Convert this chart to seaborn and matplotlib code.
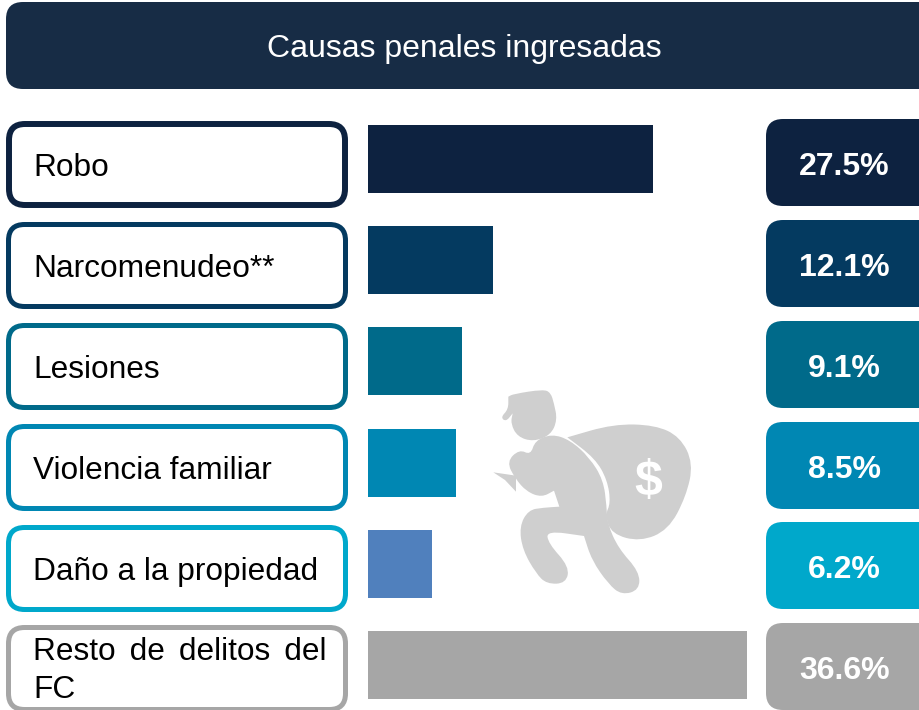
import numpy as np
import matplotlib
matplotlib.use("Agg")
import matplotlib.pyplot as plt
from matplotlib.patches import FancyBboxPatch, PathPatch
from matplotlib.path import Path
import seaborn as sns

title = "Causas penales ingresadas"
categories = ["Robo", "Narcomenudeo**", "Lesiones", "Violencia familiar",
              "Daño a la propiedad", "Resto \u200a\u200ade \u200a\u200adelitos \u200a\u200adel\nFC"]
values = [27.5, 12.1, 9.1, 8.5, 6.2, 36.6]
value_labels = ["27.5%", "12.1%", "9.1%", "8.5%", "6.2%", "36.6%"]
bar_colors = ["#0d2240", "#043a60", "#006a8a", "#0087b3", "#5080bd", "#a6a6a6"]
box_colors = ["#0d2240", "#043a60", "#006a8a", "#0087b3", "#00a8cb", "#a6a6a6"]
header_color = "#172c45"
icon_color = "#cfcfcf"

W, H = 919, 710
sns.set_theme(style="white")
plt.rcParams["font.family"] = ["Liberation Sans", "DejaVu Sans"]
fig = plt.figure(figsize=(W / 100, H / 100), dpi=100, facecolor="white")

# canvas in pixel coordinates
bg = fig.add_axes([0, 0, 1, 1], zorder=0)
bg.set_xlim(0, W); bg.set_ylim(H, 0); bg.axis("off")


def rbox(x0, y0, x1, y1, r, **kw):
    p = FancyBboxPatch((x0 + r, y0 + r), x1 - x0 - 2 * r, y1 - y0 - 2 * r,
                       boxstyle=f"round,pad={r},rounding_size={r}", **kw)
    bg.add_patch(p)


def blob(points):
    """Closed smooth shape; repeated points make corners."""
    pts = [(480 + x / 3, 380 + y / 3) for x, y in points]
    n = len(pts)
    mid = lambda a, b: ((a[0] + b[0]) / 2, (a[1] + b[1]) / 2)
    verts = [mid(pts[-1], pts[0])]
    codes = [Path.MOVETO]
    for i in range(n):
        verts += [pts[i], mid(pts[i], pts[(i + 1) % n])]
        codes += [Path.CURVE3, Path.CURVE3]
    bg.add_patch(PathPatch(Path(verts, codes), fc=icon_color, ec="none", zorder=1))


# header
rbox(6, 2, 950, 89, 17, fc=header_color, ec="none")
bg.text(464, 49, title, color="white", fontsize=23, ha="center", va="center")

# label and value boxes
tops = [121, 222, 323, 424, 525, 625]
right_tops = [119, 220, 321, 422, 522, 623]
for i, (cat, lab, col, t, rt) in enumerate(zip(categories, value_labels, box_colors, tops, right_tops)):
    inset = 3 if i == 0 else 2.5
    rbox(6 + inset, t + inset, 348 - inset, t + 87 - inset, 16, fc="white", ec=col,
         lw=4.3 if i == 0 else 3.6, zorder=2)
    two_lines = "\n" in cat
    bg.text(33, t + (46 if two_lines else 47), cat, color="black", fontsize=22.8,
            ha="left", va="center", linespacing=1.33, zorder=3)
    rbox(766, rt, 960, rt + 87, 17, fc=col, ec="none", zorder=2)
    bg.text(844.5, rt + 48, lab, color="white", fontsize=23, fontweight="bold",
            ha="center", va="center", zorder=3)

# robber icon
blob([(85, 50), (85, 50), (100, 42), (190, 28), (212, 38), (222, 70), (232, 120), (212, 165),
      (160, 185), (112, 170), (92, 130), (98, 100), (98, 100), (78, 125), (62, 112), (85, 88)])
blob([(262, 172), (262, 172), (400, 132), (525, 135), (600, 170), (640, 250), (618, 350),
      (565, 450), (480, 485), (395, 462), (375, 405), (392, 370), (382, 300), (345, 235)])
blob([(215, 162), (270, 180), (328, 232), (370, 300), (380, 380), (382, 430), (415, 505),
      (478, 575), (478, 630), (425, 645), (385, 612), (335, 540), (312, 468), (312, 468),
      (200, 452), (205, 490), (268, 560), (258, 610), (200, 612), (168, 580), (128, 510),
      (118, 440), (145, 390), (190, 383), (238, 380), (238, 380), (222, 332), (222, 332),
      (185, 352), (140, 335), (105, 295), (80, 245), (118, 208), (152, 225), (165, 182)])
bg.add_patch(plt.Polygon([(480 + x / 3, 380 + y / 3) for x, y in
                          [(40, 277), (108, 287), (108, 335), (75, 300)]],
                         fc=icon_color, ec="none", zorder=1))
bg.text(648.5, 482, "$", color="white", fontsize=36, fontweight="bold",
        ha="center", va="center", zorder=2)

# bars: one category step = 101.3 px, one percent = 10.36 px
ax = fig.add_axes([368 / W, 0, (W - 368) / W, 1], zorder=1)
ax.patch.set_alpha(0)
sns.barplot(x=values, y=list(range(len(values))), hue=list(range(len(values))),
            palette=bar_colors, orient="h", width=0.67, dodge=False, legend=False,
            saturation=1, linewidth=0, ax=ax)
ax.set_xlim(0, (W - 368) / 10.36)
ax.set_ylim((H - 158.8) / 101.3, -158.8 / 101.3)
ax.axis("off")

fig.savefig("out.png", dpi=100)
